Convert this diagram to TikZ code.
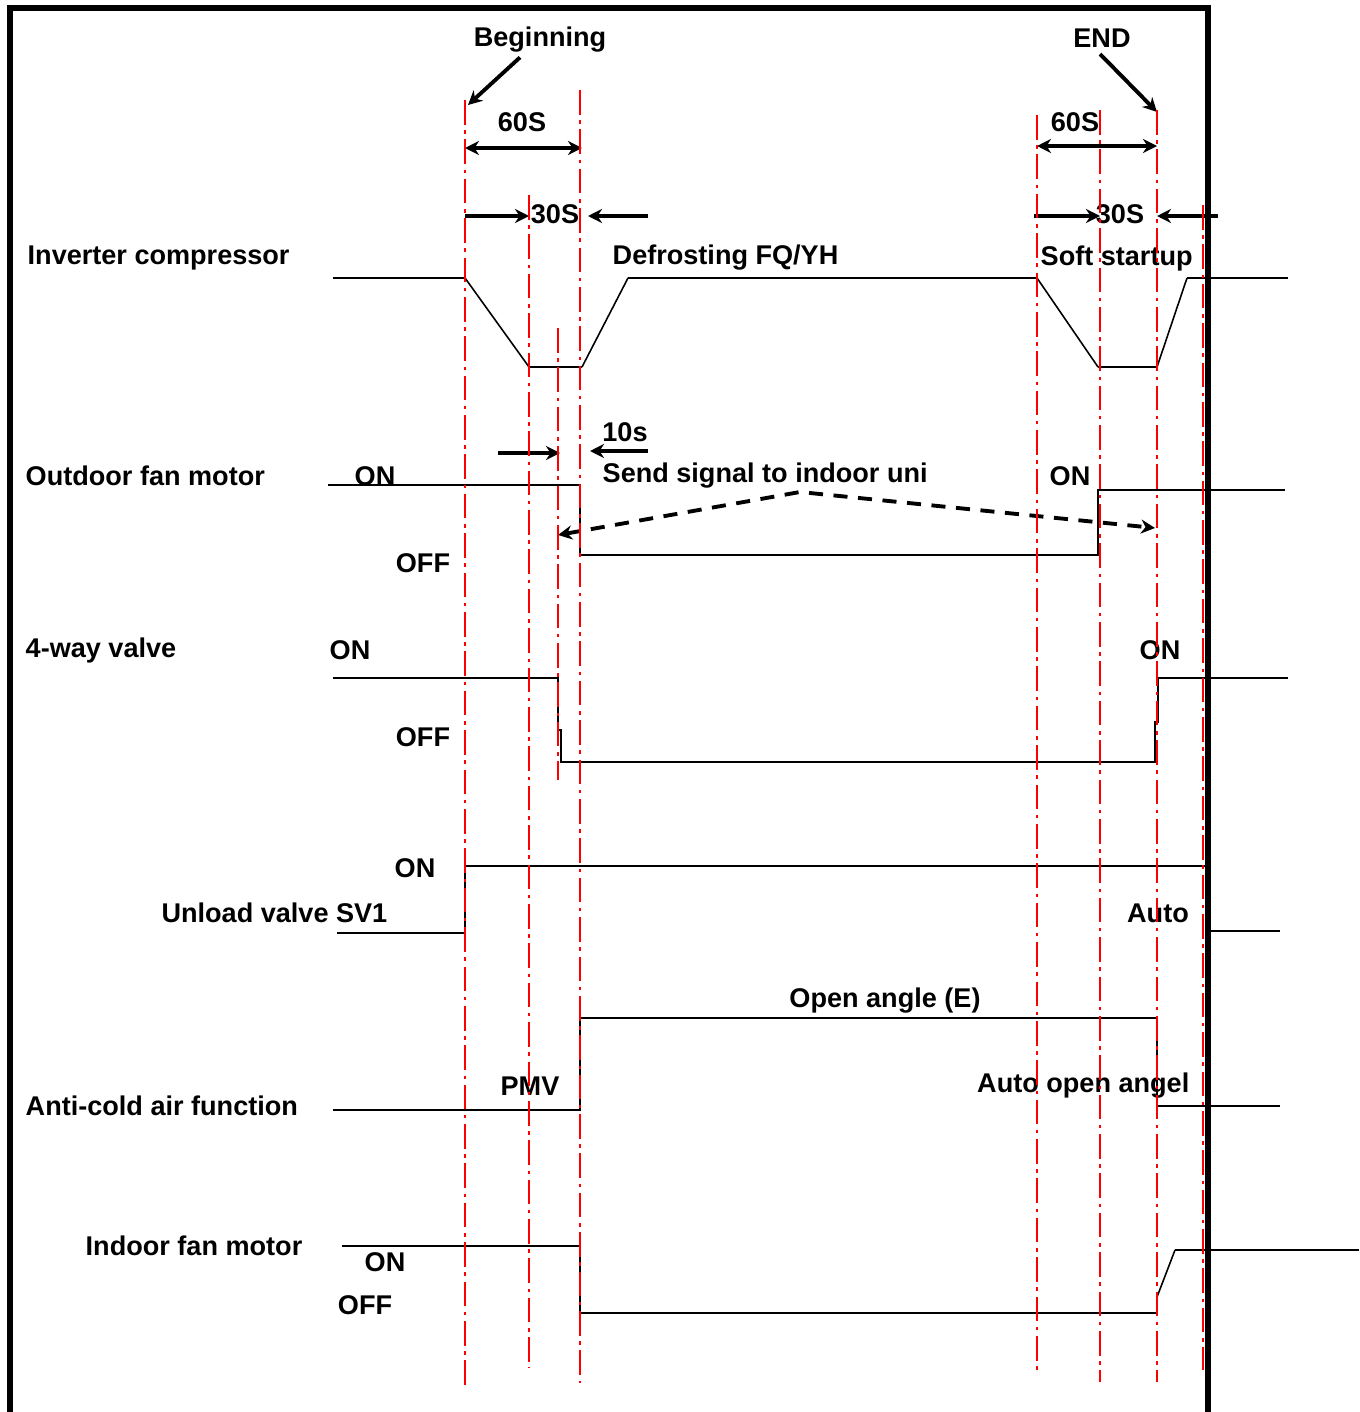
\documentclass[tikz,border=0pt]{standalone}
\usepackage{fontspec}
\setmainfont{Liberation Sans}
\usetikzlibrary{arrows.meta}

\begin{document}
\begin{tikzpicture}[x=0.01cm, y=-0.01cm,
    every node/.style={inner sep=0pt, font=\fontsize{7.7}{9}\selectfont\bfseries},
    sig/.style={line width=0.6pt},
    ramp/.style={line width=0.45pt},
    guide/.style={red, line width=0.8pt, dash pattern=on 7pt off 1.6pt on 1pt off 1.6pt},
    dim/.style={line width=1.1pt, -{Stealth[length=4pt, width=4pt]}},
    frame/.style={line width=1.5pt}]

    \useasboundingbox (0,0) rectangle (1359,1412);

    % frame
    \draw[frame] (10,1412) -- (10,8) -- (1208,8) -- (1208,1412);

    % row labels
    \node[anchor=west] (comp) at (27,258) {Inverter compressor};
    \node[anchor=west] (odfan) at (25,476) {Outdoor fan motor};
    \node[anchor=west] (fourway) at (25,650) {4-way valve};
    \node[anchor=east] (sv1) at (388,913) {Unload valve SV1};
    \node[anchor=west] (anticold) at (25,1106) {Anti-cold air function};
    \node[anchor=west] (idfan) at (85,1246) {Indoor fan motor};

    % state labels
    \node (defrost) [anchor=west] at (612,258) {Defrosting FQ/YH};
    \node (soft) [anchor=west] at (1040,258) {Soft startup};
    \node (odon) at (375,476) {ON};
    \node (odoff) at (423,563) {OFF};
    \node (odon2) at (1070,476) {ON};
    \node (signal) [anchor=west] at (602,476) {Send signal to indoor uni};
    \node (fwon) at (350,650) {ON};
    \node (fwoff) at (423,737) {OFF};
    \node (fwon2) at (1160,650) {ON};
    \node (svon) at (415,868) {ON};
    \node (svauto) at (1158,913) {Auto};
    \node (openE) at (885,1001) {Open angle (E)};
    \node (pmv) at (530,1086) {PMV};
    \node (autoopen) [anchor=east] at (1190,1086) {Auto open angel};
    \node (idon) at (385,1262) {ON};
    \node (idoff) at (365,1305) {OFF};

    % timing marks
    \node (begin) at (540,40) {Beginning};
    \node (finish) at (1102,38) {END};
    \node (sixtyA) at (522,122) {60S};
    \node (sixtyB) at (1075,122) {60S};
    \node (thirtyA) at (555,214) {30S};
    \node (thirtyB) at (1120,214) {30S};
    \node (tens) at (625,432) {10s};

    \coordinate (tbeg) at (468,105);
    \coordinate (tend) at (1157,112);
    \draw[dim] (begin.south) ++(-20,4) -- (tbeg);
    \draw[dim] (finish.south) ++(-2,6) -- (tend);

    \draw[dim, {Stealth[length=4pt, width=4pt]}-{Stealth[length=4pt, width=4pt]}] (465,148) -- (582,148);
    \draw[dim, {Stealth[length=4pt, width=4pt]}-{Stealth[length=4pt, width=4pt]}] (1037,146) -- (1157,146);
    \draw[dim] (465,216) -- (529,216);
    \draw[dim] (648,216) -- (588,216);
    \draw[dim] (1034,216) -- (1100,216);
    \draw[dim] (1218,216) -- (1157,216);
    \draw[dim] (498,453) -- (560,453);
    \draw[dim] (648,451) -- (590,451);

    % signal traces
    \draw[sig] (333,278) -- (465,278);
    \draw[ramp] (465,278) -- (529,367);
    \draw[sig] (529,367) -- (582,367);
    \draw[ramp] (582,367) -- (628,278);
    \draw[sig] (628,278) -- (1037,278);
    \draw[ramp] (1037,278) -- (1098,367);
    \draw[sig] (1098,367) -- (1157,367);
    \draw[ramp] (1157,367) -- (1187,278);
    \draw[sig] (1187,278) -- (1288,278);

    \draw[sig] (328,485) -- (580,485) -- (580,555) -- (1098,555) -- (1098,490) -- (1285,490);
    \draw[sig] (333,678) -- (558,678) -- (558,730) -- (561,730) -- (561,762) -- (1155,762) -- (1155,722) -- (1158,722) -- (1158,678) -- (1288,678);
    \draw[sig] (337,933) -- (465,933) -- (465,866) -- (1205,866);
    \draw[sig] (1208,931) -- (1280,931);
    \draw[sig] (333,1110) -- (580,1110) -- (580,1018) -- (1157,1018) -- (1157,1106) -- (1280,1106);
    \draw[sig] (342,1246) -- (580,1246) -- (580,1313) -- (1157,1313) -- (1157,1297);
    \draw[ramp] (1157,1297) -- (1175,1250);
    \draw[sig] (1175,1250) -- (1359,1250);

    % signal to indoor unit
    \draw[line width=1.1pt, dash pattern=on 4pt off 3pt,
        {Stealth[length=4pt, width=4pt]}-{Stealth[length=4pt, width=4pt]}] (558,535) -- (800,492) -- (1155,528);

    % guide lines
    \foreach \x/\ya/\yb in {465/100/1385, 529/195/1368, 558/328/780, 580/90/1383,
        1037/115/1370, 1100/110/1382, 1157/110/1382, 1203/205/1370}
        \draw[guide] (\x,\ya) -- (\x,\yb);

\end{tikzpicture}
\end{document}
